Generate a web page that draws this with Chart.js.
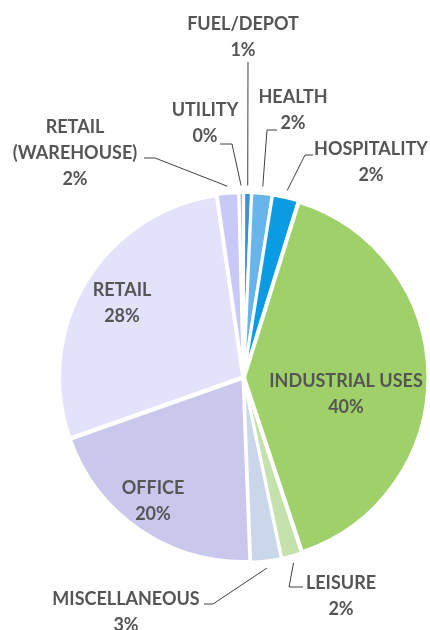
<!DOCTYPE html>
<html>
<head>
<meta charset="utf-8">
<title>Land use share</title>
<script src="https://cdn.jsdelivr.net/npm/chart.js@4.4.1/dist/chart.umd.min.js"></script>
<style>
  html, body { margin: 0; padding: 0; background: #fff; }
  #wrap { position: relative; width: 430px; height: 630px; }
</style>
</head>
<body>
<div id="wrap"><canvas id="useChart"></canvas></div>
<script>
// Slices, clockwise from 12 o'clock
const categories = ['FUEL/DEPOT', 'HEALTH', 'HOSPITALITY', 'INDUSTRIAL USES', 'LEISURE',
                    'MISCELLANEOUS', 'OFFICE', 'RETAIL', 'RETAIL\n(WAREHOUSE)', 'UTILITY'];
const shares = [0.7, 1.8, 2.3, 40.1, 1.8, 2.7, 20.2, 28.1, 1.9, 0.4];
const sliceColors = ['#3F8FD6', '#68B5EC', '#0A9BE3', '#9FD06A', '#C6E2AC',
                     '#CAD6EA', '#C9C7EC', '#E3E2FA', '#C9C9F7', '#8FB4E0'];

// Where each label goes: text anchor (centre of first line) and leader elbow points
const labelSpots = [
    { x: 243, y: 24,  leader: [[248, 62]] },
    { x: 293, y: 97,  leader: [[277, 130], [267, 130]] },
    { x: 371, y: 149, leader: [[313, 155], [305, 155]] },
    { x: 346, y: 381 },
    { x: 341, y: 583, leader: [[303, 587], [289, 587]] },
    { x: 126, y: 599, leader: [[204, 604], [213, 604]] },
    { x: 153, y: 488 },
    { x: 122, y: 290 },
    { x: 75,  y: 127, leader: [[144, 158], [155, 158]] },
    { x: 205, y: 110, leader: [[220, 144], [232, 144]] }
];

const LINE_H = 26;
const TEXT_COLOR = '#555555';

const total = shares.reduce((a, b) => a + b, 0);

const pieLabels = {
    id: 'pieLabels',
    afterDatasetsDraw(chart) {
        const ctx = chart.ctx;
        const arcs = chart.getDatasetMeta(0).data;
        ctx.save();
        ctx.font = 'bold 18px Lato';
        ctx.fillStyle = TEXT_COLOR;
        ctx.textAlign = 'center';
        ctx.textBaseline = 'middle';

        arcs.forEach((arc, i) => {
            const spot = labelSpots[i];
            const pct = Math.round(shares[i] / total * 100) + '%';
            const lines = categories[i].split('\n').concat(pct);
            lines.forEach((t, k) => ctx.fillText(t, spot.x, spot.y + k * LINE_H));

            if (spot.leader) {
                const p = arc.getProps(['x', 'y', 'startAngle', 'endAngle', 'outerRadius'], true);
                const mid = (p.startAngle + p.endAngle) / 2;
                const reach = p.outerRadius + 9;
                const ex = p.x + Math.cos(mid) * reach;
                const ey = p.y + Math.sin(mid) * reach;
                ctx.beginPath();
                ctx.strokeStyle = '#404040';
                ctx.lineWidth = 1;
                spot.leader.forEach(([lx, ly], k) => {
                    if (k === 0) ctx.moveTo(lx, ly); else ctx.lineTo(lx, ly);
                });
                ctx.lineTo(ex, ey);
                ctx.stroke();
            }
        });
        ctx.restore();
    }
};

new Chart(document.getElementById('useChart'), {
    type: 'pie',
    data: {
        labels: categories,
        datasets: [{
            data: shares,
            backgroundColor: sliceColors,
            borderColor: '#ffffff',
            borderWidth: 3,
            offset: 4
        }]
    },
    options: {
        responsive: true,
        maintainAspectRatio: false,
        animation: false,
        layout: {
            padding: { left: 57, right: 0, top: 191, bottom: 66 }
        },
        plugins: {
            legend: { display: false },
            tooltip: { enabled: false }
        }
    },
    plugins: [pieLabels]
});
</script>
</body>
</html>
